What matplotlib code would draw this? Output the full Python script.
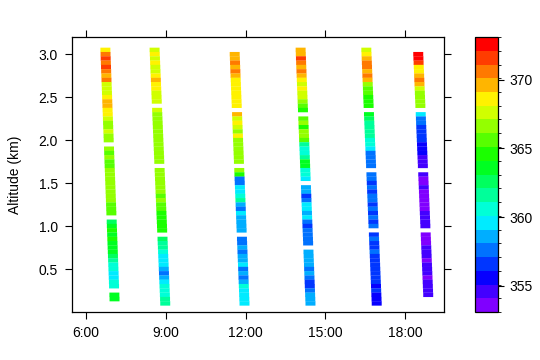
import numpy as np
import matplotlib as mpl
import matplotlib.pyplot as plt
from matplotlib.colors import ListedColormap, BoundaryNorm, hsv_to_rgb

plt.rcParams['font.family'] = ['Liberation Sans', 'DejaVu Sans']

nan = np.nan

# altitude levels (km), top to bottom
altitude = [3.05, 3.00, 2.95, 2.90, 2.85, 2.80, 2.75, 2.70, 2.65, 2.60,
            2.55, 2.50, 2.45, 2.40, 2.35, 2.30, 2.25, 2.20, 2.15, 2.10,
            2.05, 2.00, 1.95, 1.90, 1.85, 1.80, 1.75, 1.70, 1.65, 1.60,
            1.55, 1.50, 1.45, 1.40, 1.35, 1.30, 1.25, 1.20, 1.15, 1.10,
            1.05, 1.00, 0.95, 0.90, 0.85, 0.80, 0.75, 0.70, 0.65, 0.60,
            0.55, 0.50, 0.45, 0.40, 0.35, 0.30, 0.25, 0.20, 0.15, 0.10]

# CO2 (ppm) for each profile, same altitude order
co2_p1 = [368.2, 371.0, 371.4, 370.8, 371.2, 370.1, 369.9, 370.2, 367.8, 367.5,
          367.7, 368.2, 369.3, 369.8, 369.0, 368.4, 367.2, 367.0, 366.8, 367.3,
          366.6, 366.5, nan, 366.2, 365.9, 366.3, 366.0, 365.8, 366.4, 366.6,
          366.9, 366.7, 366.8, 366.5, 366.2, 366.3, 366.0, 365.6, 365.8, nan,
          362.3, 363.2, 364.2, 363.8, 364.3, 363.6, 363.9, 363.2, 362.8, 361.8,
          361.0, 360.4, 360.0, 359.8, 360.3, 360.9, nan, 363.8, 364.0, nan]
co2_p2 = [367.9, 368.2, 367.8, 368.4, 368.0, 367.7, 368.6, 369.2, 368.9, 368.3,
          367.8, 367.6, 367.9, nan, 367.2, 366.9, 367.0, 366.6, 366.8, 366.4,
          366.2, 366.6, 366.3, 366.5, 366.8, 366.4, 366.7, nan, 366.6, 366.9,
          366.3, 366.5, 366.1, 366.4, 366.0, 366.2, 365.8, 365.4, 365.0, 364.6,
          364.3, 364.5, 364.2, nan, 362.6, 362.0, 361.4, 360.6, 360.0, 359.6,
          359.8, 358.2, 357.4, 358.6, 359.7, 360.2, 360.5, 361.0, 361.8, 361.5]
co2_p3 = [nan, 370.0, 369.6, 370.3, 369.8, 370.4, 369.2, 368.9, 368.6, 369.0,
          368.7, 368.8, 368.9, 368.7, nan, 369.2, 367.9, 368.3, 367.6, 366.4,
          369.0, 367.0, 366.8, 366.5, 366.9, 366.6, 366.8, nan, 366.2, 364.4,
          357.9, 357.3, 359.2, 359.6, 360.3, 361.8, 358.4, 357.2, 359.5, 358.4,
          358.6, 358.3, 358.5, nan, 357.5, 357.2, 358.6, 357.3, 358.2, 358.5,
          359.2, 357.4, 358.6, 357.2, 358.4, 360.6, 359.5, 359.7, 359.6, 359.8]
co2_p4 = [369.8, 369.9, 371.6, 370.6, 369.4, 370.8, 369.2, 368.9, 368.0, 368.6,
          367.6, 367.9, 366.4, 365.3, 364.6, nan, 365.4, 366.6, 364.7, 366.2,
          366.5, 366.0, 361.5, 360.6, 360.3, 361.2, 364.0, 363.6, 360.3, 360.6,
          359.9, nan, 359.0, 358.4, 357.0, 357.6, 359.2, 359.6, 358.4, 359.3,
          358.0, 356.9, 357.3, 357.5, 357.8, 357.4, nan, 358.3, 358.9, 358.4,
          359.0, 357.7, 358.5, 357.9, 356.8, 356.6, 357.6, 358.3, 358.5, 358.2]
co2_p5 = [367.9, 368.6, 369.9, 370.4, 370.7, 370.0, 370.5, 369.6, 366.4, 365.6,
          366.0, 364.6, 364.3, 364.5, nan, 363.2, 362.8, 361.6, 362.0, 361.4,
          361.7, 360.8, 360.3, 359.6, 357.4, 357.2, 357.6, 357.3, nan, 357.4,
          357.8, 357.0, 357.3, 356.4, 357.2, 357.5, 356.8, 357.3, 357.0, 357.6,
          356.9, 357.2, nan, 356.9, 357.3, 357.0, 356.6, 357.1, 356.8, 356.9,
          356.4, 356.7, 356.2, 356.6, 356.4, 355.8, 356.3, 355.4, 355.3, 355.5]
co2_p6 = [nan, 372.8, 372.3, 371.4, 369.0, 368.8, 369.2, 370.4, 370.0, 367.6,
          366.6, 366.4, 366.7, 366.5, nan, 359.8, 357.8, 357.2, 356.6, 356.3,
          357.0, 356.2, 355.7, 355.4, 355.8, 354.7, 354.4, 354.6, nan, 354.4,
          354.0, 353.8, 354.2, 353.7, 353.6, 353.9, 353.5, 353.7, 354.2, 354.5,
          354.3, 354.7, nan, 353.6, 353.5, 353.8, 354.2, 354.5, 354.3, 353.6,
          354.4, 354.6, 354.5, 353.7, 354.4, 354.6, 354.7, 354.5, nan, nan]

# flight time (hours) at the top (3.05 km) and bottom (0.10 km) of each profile
time_top = [6.73, 8.58, 11.585, 14.07, 16.54, 18.485]
time_bottom = [7.08, 8.98, 11.96, 14.44, 16.93, 18.88]

profiles = [co2_p1, co2_p2, co2_p3, co2_p4, co2_p5, co2_p6]

xticks = [6, 9, 12, 15, 18]
xlabels = ['6:00', '9:00', '12:00', '15:00', '18:00']
yticks = [0.5, 1.0, 1.5, 2.0, 2.5, 3.0]
cticks = [355, 360, 365, 370]

# 20-step rainbow, purple (low) to red (high)
levels = np.linspace(353.1, 373.1, 21)
colors = [hsv_to_rgb((0.75 * (1 - i / 19), 1, 1)) for i in range(20)]
cmap = ListedColormap(colors)
norm = BoundaryNorm(levels, cmap.N)

fig = plt.figure(figsize=(5.4, 3.6), dpi=100)
ax = fig.add_axes([72/540, 48/360, 372/540, 275/360])
cax = fig.add_axes([475/540, 48/360, 23/540, 275/360])

alt = np.array(altitude)
for vals, tt, tb in zip(profiles, time_top, time_bottom):
    v = np.array(vals)
    ok = ~np.isnan(v)
    t = np.interp(alt, [0.10, 3.05], [tb, tt])
    ax.bar(t[ok], 0.052, width=0.375, bottom=alt[ok] - 0.026,
           color=cmap(norm(v[ok])), linewidth=0, snap=False)

ax.set_xlim(5.475, 19.46)
ax.set_ylim(0, 3.2)
ax.set_xticks(xticks)
ax.set_xticklabels(xlabels)
ax.set_yticks(yticks)
ax.set_yticklabels([f'{y:.1f}' for y in yticks])
ax.tick_params(direction='out', length=5, width=0.8, top=True, right=True,
               labelsize=10, pad=5)
ax.set_ylabel('Altitude (km)', fontsize=10, labelpad=12)
for s in ax.spines.values():
    s.set_linewidth(0.9)

cb = fig.colorbar(mpl.cm.ScalarMappable(norm=norm, cmap=cmap), cax=cax,
                  ticks=cticks)
cb.outline.set_linewidth(0.9)
cax.tick_params(length=4, width=0.8, labelsize=10, pad=4)

fig.savefig('out.png', dpi=100)
